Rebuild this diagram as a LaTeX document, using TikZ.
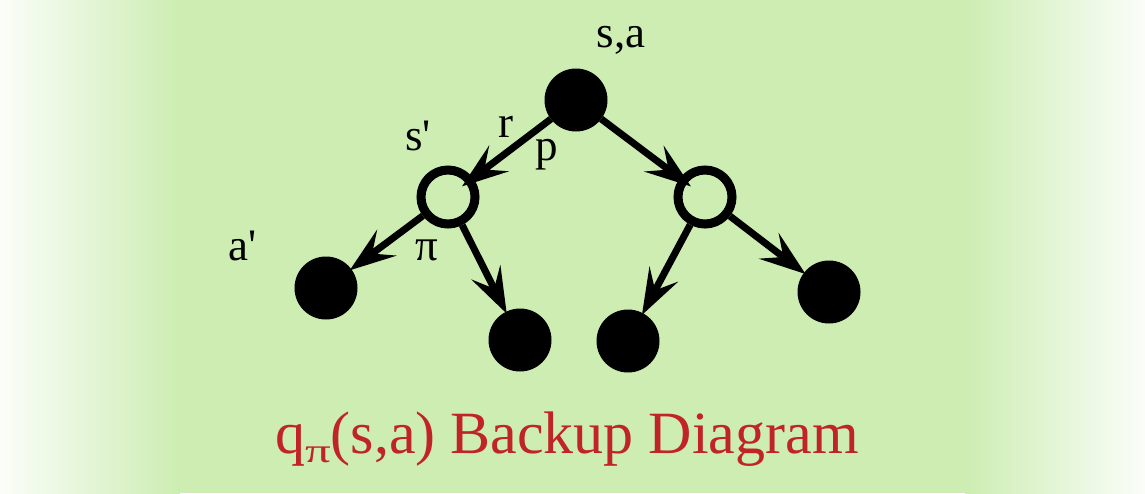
\documentclass[tikz,border=0pt]{standalone}
\usepackage{fontspec}
\setmainfont{Liberation Serif}
\usetikzlibrary{arrows.meta}
\definecolor{bggreen}{RGB}{205,237,179}
\definecolor{titlered}{RGB}{192,36,38}
\begin{document}
\begin{tikzpicture}[x=1pt, y=-1pt,
				    act/.style={circle, draw=black, fill=black, line width=2pt,
				    			minimum size=61pt, inner sep=0pt},
				    chance/.style={circle, draw=black, fill=none, line width=9pt,
				    			minimum size=54pt, inner sep=0pt},
				    lbl/.style={anchor=base, font=\fontsize{45}{45}\selectfont, text=black},
				    arr/.style={line width=7pt, -{Stealth[length=46pt, width=32pt, inset=18pt]}}]
	\useasboundingbox (0,0) rectangle (1145,493);
	\fill[bggreen] (180,0) rectangle (965,493);
	\shade[left color=bggreen!8!white, right color=bggreen] (0,0) rectangle (180,493);
	\shade[left color=bggreen, right color=bggreen!8!white] (965,0) rectangle (1145,493);

	\node[act] (u1) at (576, 100) {};
	\node[chance] (u2) at (448, 197) {};
	\node[chance] (u3) at (705, 197) {};
	\node[act] (u4) at (326, 288) {};
	\node[act] (u5) at (520, 340) {};
	\node[act] (u6) at (628, 341) {};
	\node[act] (u7) at (829, 292) {};

	\node[lbl] (l1) at (621, 47) {s,a};
	\node[lbl] (l2) at (418, 150) {s\textquotesingle};
	\node[lbl] (l3) at (506, 137) {r};
	\node[lbl] (l4) at (547, 160) {p};
	\node[lbl] (l5) at (243, 260) {a\textquotesingle};
	\node[lbl] (l6) at (427, 260) {π};

	\path[arr, shorten >=-14pt] 	(u1)  edge   (u2);
	\path[arr, shorten >=-14pt] 	(u1)  edge   (u3);
	\path[arr, shorten >=-2pt] 	(u2)  edge   (u4);
	\path[arr, shorten >=-2pt] 	(u2)  edge   (u5);
	\path[arr, shorten >=-2pt] 	(u3)  edge   (u6);
	\path[arr, shorten >=-2pt] 	(u3)  edge   (u7);

	\node[anchor=base, text=titlered, font=\fontsize{60}{60}\selectfont] (title) at (567, 453)
		{q\raisebox{-9pt}{\fontsize{34}{34}\selectfont\scalebox{1.5}[1]{π}}(s,a) Backup Diagram};
\end{tikzpicture}
\end{document}
